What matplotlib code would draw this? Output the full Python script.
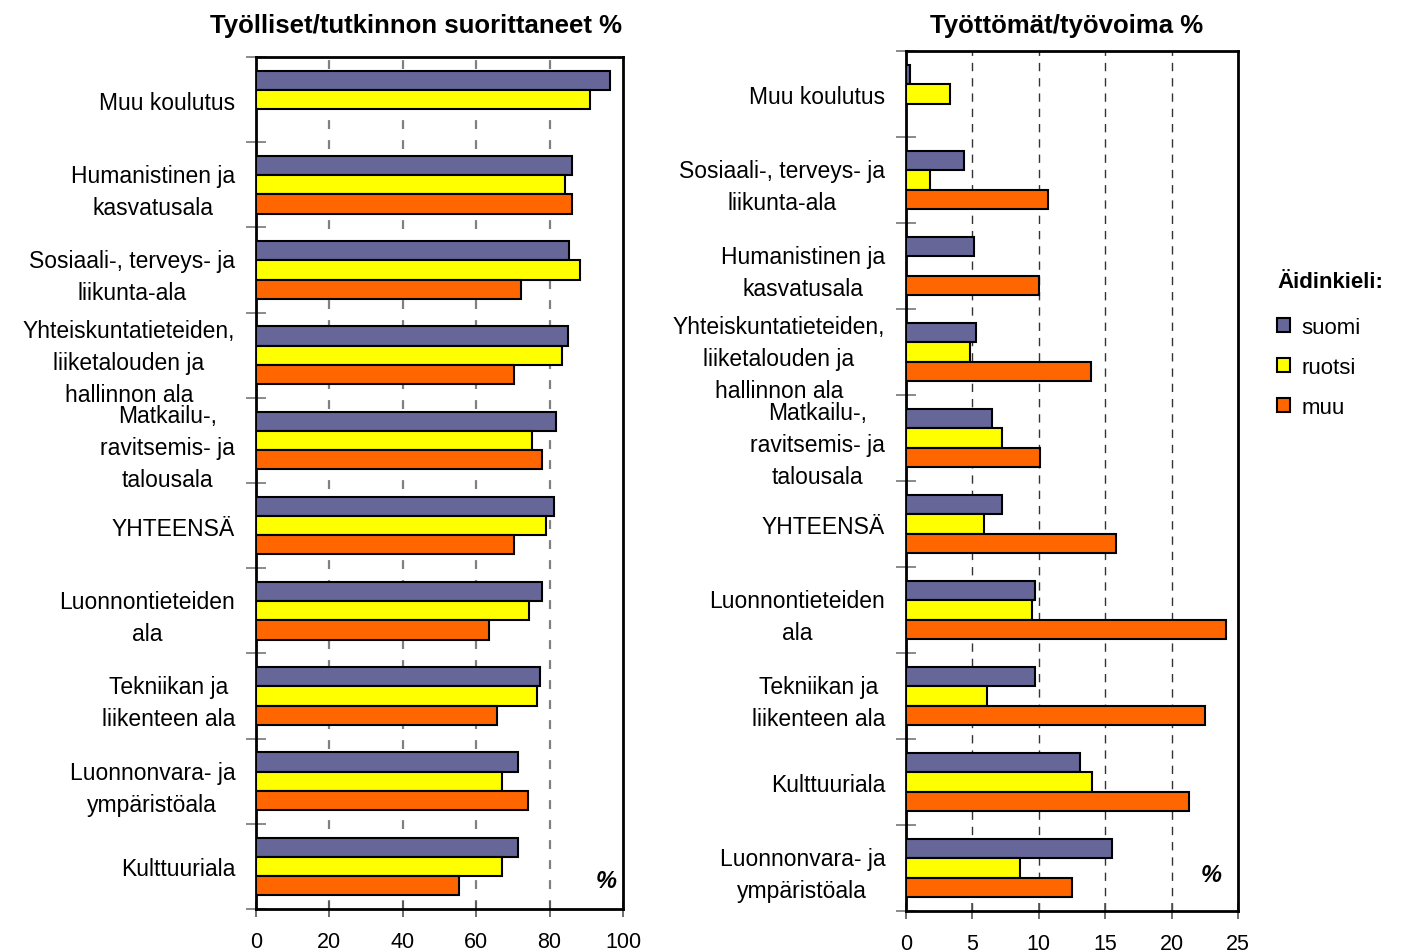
import numpy as np
import matplotlib
matplotlib.use("Agg")
import matplotlib.pyplot as plt
import matplotlib.transforms as mtransforms
from matplotlib.patches import Patch

plt.rcParams['font.family'] = ['Liberation Sans', 'DejaVu Sans']

series = ['suomi', 'ruotsi', 'muu']
colors = ['#666699', '#FFFF00', '#FF6600']

# Left panel: Työlliset/tutkinnon suorittaneet %
left_cats = ['Muu koulutus', 'Humanistinen ja\nkasvatusala', 'Sosiaali-, terveys- ja\nliikunta-ala',
             'Yhteiskuntatieteiden,\nliiketalouden ja\nhallinnon ala', 'Matkailu-,\nravitsemis- ja\ntalousala',
             'YHTEENSÄ', 'Luonnontieteiden\nala', 'Tekniikan ja\nliikenteen ala',
             'Luonnonvara- ja\nympäristöala', 'Kulttuuriala']
left_suomi = [96.4, 86.0, 85.4, 85.0, 81.7, 81.1, 77.8, 77.3, 71.3, 71.3]
left_ruotsi = [90.9, 84.3, 88.2, 83.3, 75.1, 78.9, 74.5, 76.7, 66.9, 66.9]
left_muu = [np.nan, 86.0, 72.3, 70.2, 77.8, 70.2, 63.6, 65.8, 74.0, 55.4]
left_ticks = [0, 20, 40, 60, 80, 100]

# Right panel: Työttömät/työvoima %
right_cats = ['Muu koulutus', 'Sosiaali-, terveys- ja\nliikunta-ala', 'Humanistinen ja\nkasvatusala',
              'Yhteiskuntatieteiden,\nliiketalouden ja\nhallinnon ala', 'Matkailu-,\nravitsemis- ja\ntalousala',
              'YHTEENSÄ', 'Luonnontieteiden\nala', 'Tekniikan ja\nliikenteen ala',
              'Kulttuuriala', 'Luonnonvara- ja\nympäristöala']
right_suomi = [0.3, 4.4, 5.1, 5.3, 6.5, 7.2, 9.7, 9.7, 13.1, 15.5]
right_ruotsi = [3.3, 1.8, np.nan, 4.8, 7.2, 5.9, 9.5, 6.1, 14.0, 8.6]
right_muu = [np.nan, 10.7, 10.0, 13.9, 10.1, 15.8, 24.1, 22.5, 21.3, 12.5]
right_ticks = [0, 5, 10, 15, 20, 25]

W, H = 1401, 953
fig = plt.figure(figsize=(W / 100, H / 100), dpi=100)

def px_axes(x0, x1, ytop, ybot):
    return fig.add_axes([x0 / W, 1 - ybot / H, (x1 - x0) / W, (ybot - ytop) / H])

def draw(ax, cats, vals, ticks, grid_kw, pct_xy):
    n = len(cats)
    y = np.arange(n)
    bh = 0.225
    for i, (v, c) in enumerate(zip(vals, colors)):
        ax.barh(y + (i - 1) * bh, v, height=bh, color=c, edgecolor='black', linewidth=1.5, zorder=3)
    ax.set_ylim(n - 0.5, -0.5)
    ax.set_xlim(ticks[0], ticks[-1])
    ax.set_xticks(ticks)
    ax.set_xticklabels([str(t) for t in ticks], fontsize=15.5)
    ax.tick_params(axis='x', direction='inout', length=12, width=1.2, color='#555555', pad=10)
    ax.set_yticks(y)
    ax.set_yticklabels(cats, fontsize=16.5)
    offset = mtransforms.ScaledTranslation(0, 4 / 100, fig.dpi_scale_trans)
    for lab in ax.get_yticklabels():
        lab.set_multialignment('center')
        lab.set_linespacing(1.5)
        lab.set_transform(lab.get_transform() + offset)
    ax.tick_params(axis='y', which='major', length=0, pad=15)
    ax.set_yticks(np.arange(n + 1) - 0.5, minor=True)
    ax.tick_params(axis='y', which='minor', direction='inout', length=14, width=1.2, color='#777777')
    for t in ticks[1:-1]:
        ax.axvline(t, zorder=1, **grid_kw)
    for s in ax.spines.values():
        s.set_linewidth(2)
        s.set_color('black')
    ax.text(pct_xy[0], pct_xy[1], '%', transform=ax.transAxes, fontsize=17, fontweight='bold',
            fontstyle='italic', ha='center', va='center')

axL = px_axes(256, 623, 58, 910)
draw(axL, left_cats, [left_suomi, left_ruotsi, left_muu], left_ticks,
     dict(color='#808080', linewidth=1.6, linestyle=(0, (4, 5))), (0.954, 0.033))

axR = px_axes(906, 1238, 52, 912)
draw(axR, right_cats, [right_suomi, right_ruotsi, right_muu], right_ticks,
     dict(color='#333333', linewidth=1.0, linestyle=(0, (6, 5))), (0.919, 0.042))

fig.text(416 / W, 1 - 26 / H, 'Työlliset/tutkinnon suorittaneet %', fontsize=18.5, fontweight='bold',
         ha='center', va='center')
fig.text(1067 / W, 1 - 26 / H, 'Työttömät/työvoima %', fontsize=18.5, fontweight='bold',
         ha='center', va='center')

handles = [Patch(facecolor=c, edgecolor='black', linewidth=1.5, label=s) for s, c in zip(series, colors)]
leg = fig.legend(handles=handles, loc='upper left', bbox_to_anchor=(1277 / W, 1 - 272 / H),
                 frameon=False, fontsize=16, title='Äidinkieli:', alignment='left',
                 title_fontproperties={'weight': 'bold', 'size': 16},
                 handlelength=0.6, handleheight=0.6, handletextpad=0.5, labelspacing=0.85,
                 borderpad=0, borderaxespad=0)
leg._legend_box.sep = 18

fig.savefig('out.png', dpi=100, facecolor='white')
